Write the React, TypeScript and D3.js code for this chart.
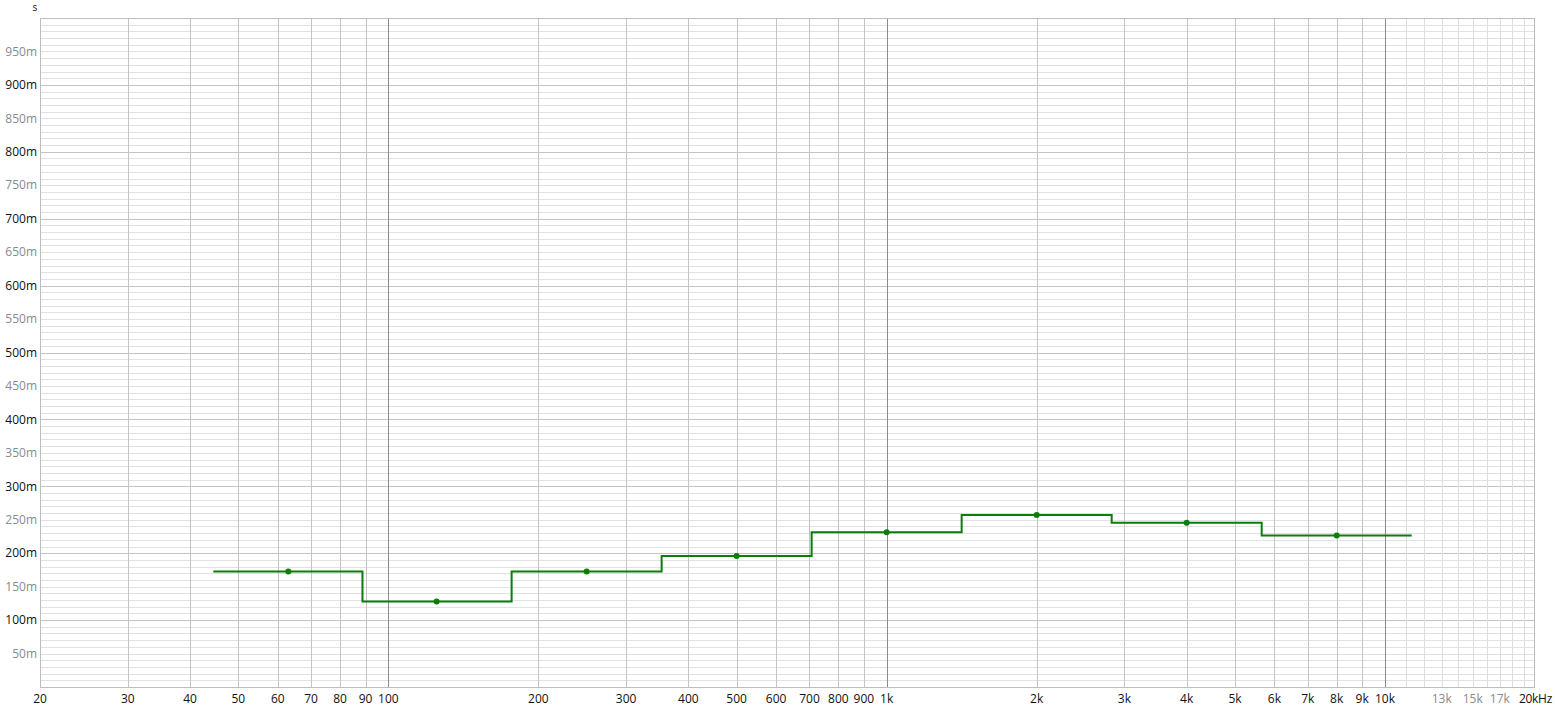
import React from 'react';
import * as d3 from 'd3';

// octave band centres (Hz) and reverberation values (s)
const bandCenters = [63, 125, 250, 500, 1000, 2000, 4000, 8000];
const bandValues = [0.1727, 0.1278, 0.1727, 0.1959, 0.2313, 0.2572, 0.2457, 0.2265];

const xTickValues = [20, 30, 40, 50, 60, 70, 80, 90, 100, 200, 300, 400, 500, 600, 700, 800, 900,
  1000, 2000, 3000, 4000, 5000, 6000, 7000, 8000, 9000, 10000, 13000, 15000, 17000, 20000];
const xTickGrey = [13000, 15000, 17000];
const yTickValues = d3.range(1, 20).map(i => i * 0.05);

const W = 1555;
const H = 711;
const margin = { left: 40, right: 20, top: 18, bottom: 24 };

const fmtX = (f: number) => {
  if (f === 20000) return '20kHz';
  if (f >= 1000) return `${f / 1000}k`;
  return `${f}`;
};

const App: React.FC = () => {
  const x = d3.scaleLog().domain([20, 20000]).range([margin.left, W - margin.right]);
  const y = d3.scaleLinear().domain([0, 1]).range([H - margin.bottom, margin.top]);

  // vertical grid lines
  const vLines: { f: number; color: string }[] = [];
  for (let dec = 10; dec <= 10000; dec *= 10) {
    for (let m = 1; m <= 9; m++) {
      const f = dec * m;
      if (f < 20 || f > 10000) continue;
      const isDecade = m === 1 && f >= 100;
      vLines.push({ f, color: isDecade ? '#8a8a8a' : '#c4c4c4' });
    }
  }
  for (let f = 11000; f < 20000; f += 1000) vLines.push({ f, color: '#dedede' });

  const hMinor = d3.range(1, 100).map(i => i / 100);

  // step path: band edges at geometric means between neighbouring centres
  const edges = bandCenters.map((c, i) =>
    i === 0 ? c / Math.SQRT2 : Math.sqrt(bandCenters[i - 1] * c));
  edges.push(bandCenters[bandCenters.length - 1] * Math.SQRT2);
  const pts: [number, number][] = [];
  bandCenters.forEach((c, i) => {
    pts.push([edges[i], bandValues[i]]);
    pts.push([edges[i + 1], bandValues[i]]);
  });
  const line = d3.line<[number, number]>().x(d => x(d[0])).y(d => y(d[1]));

  const x0 = x(20);
  const x1 = x(20000);
  const y0 = y(0);
  const y1 = y(1);

  return (
    <svg width={W} height={H} style={{ position: 'absolute', left: 0, top: 0, fontFamily: '"Open Sans", "Noto Sans", sans-serif' }}>
      <rect x={0} y={0} width={W} height={H} fill="#fff" />
      {hMinor.map(v => (
        <line key={'h' + v} x1={x0} x2={x1} y1={Math.round(y(v)) + 0.5} y2={Math.round(y(v)) + 0.5}
          stroke={Math.round(v * 100) % 10 === 0 ? '#c4c4c4' : '#e2e2e2'} strokeWidth={1} />
      ))}
      {vLines.map(d => (
        <line key={'v' + d.f} x1={Math.round(x(d.f)) + 0.5} x2={Math.round(x(d.f)) + 0.5} y1={y1} y2={y0}
          stroke={d.color} strokeWidth={1} />
      ))}
      <rect x={x0 + 0.5} y={Math.round(y1) + 0.5} width={x1 - x0 - 1} height={Math.round(y0) - Math.round(y1)}
        fill="none" stroke="#bdbdbd" />
      {yTickValues.map(v => {
        const major = Math.round(v * 100) % 10 === 0;
        return (
          <text key={'yt' + v} x={37} y={y(v)} dy="0.35em" textAnchor="end" fontSize={12}
            fill={major ? '#111' : '#8a8a8a'}>{`${Math.round(v * 1000)}m`}</text>
        );
      })}
      <text x={35} y={11} textAnchor="middle" fontSize={10} fill="#111">s</text>
      {xTickValues.map(f => (
        <text key={'xt' + f} x={f === 20000 ? 1552 : x(f)} y={703} textAnchor={f === 20000 ? 'end' : 'middle'}
          fontSize={12} letterSpacing={f === 20000 ? -0.3 : 0}
          fill={xTickGrey.includes(f) ? '#8a8a8a' : '#111'}>{fmtX(f)}</text>
      ))}
      <path d={line(pts) || ''} fill="none" stroke="#0a7d0a" strokeWidth={2} />
      {bandCenters.map((c, i) => (
        <circle key={'p' + c} cx={x(c)} cy={y(bandValues[i])} r={3} fill="#0a7d0a" />
      ))}
    </svg>
  );
};

export default App;
